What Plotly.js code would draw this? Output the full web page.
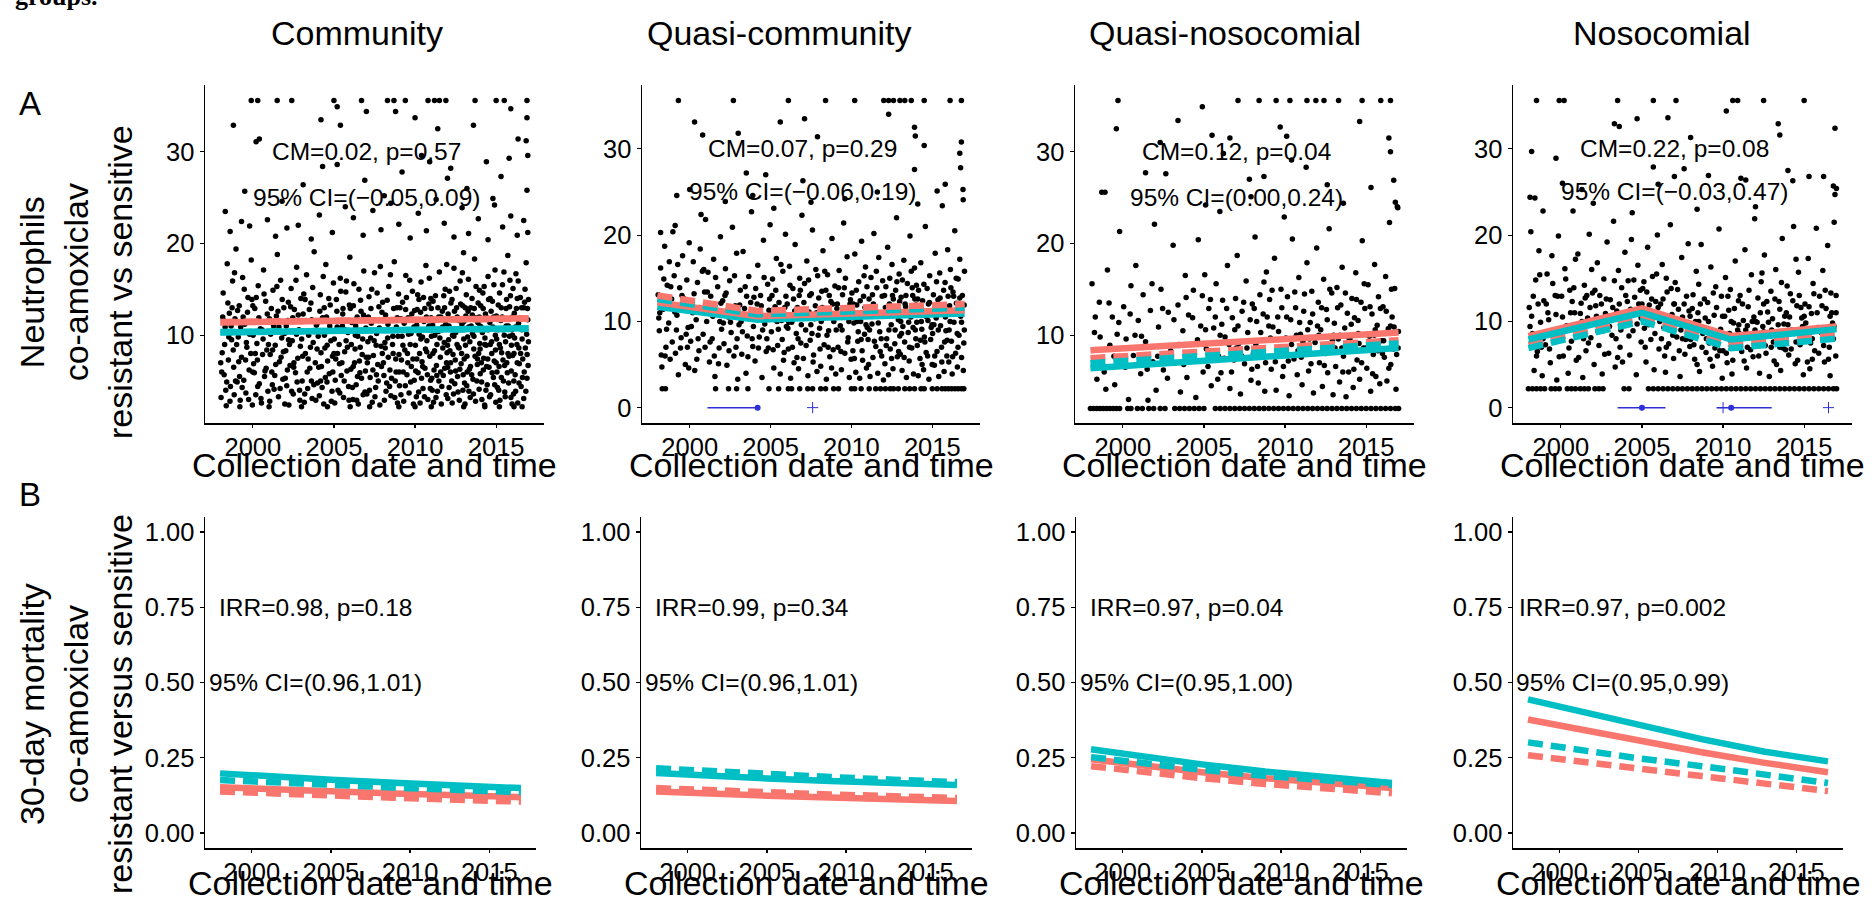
<!DOCTYPE html>
<html><head><meta charset="utf-8">
<script src="https://cdn.plot.ly/plotly-3.0.1.min.js"></script>
<style>html,body{margin:0;padding:0;background:#fff}#chart{width:1872px;height:904px}</style>
</head><body><div id="chart"></div>
<script>
// ---------- DATA ----------
const groups = ["Community", "Quasi-community", "Quasi-nosocomial", "Nosocomial"];
const xTickVals = [2000, 2005, 2010, 2015];
const yTickA13 = [10, 20, 30];
const yTickA24 = [0, 10, 20, 30];
const yTickB = [0, 0.25, 0.5, 0.75, 1];
const yTickBText = ["0.00", "0.25", "0.50", "0.75", "1.00"];
const statA1 = ["CM=0.02, p=0.57", "CM=0.07, p=0.29", "CM=0.12, p=0.04", "CM=0.22, p=0.08"];
const statA2 = ["95% CI=(\u22120.05,0.09)", "95% CI=(\u22120.06,0.19)", "95% CI=(0.00,0.24)", "95% CI=(\u22120.03,0.47)"];
const statB1 = ["IRR=0.98, p=0.18", "IRR=0.99, p=0.34", "IRR=0.97, p=0.04", "IRR=0.97, p=0.002"];
const statB2 = ["95% CI=(0.96,1.01)", "95% CI=(0.96,1.01)", "95% CI=(0.95,1.00)", "95% CI=(0.95,0.99)"];

// Panel A scatter points [year, neutrophils]
const a1Pts = [
[1999.9,35.6],[2000.3,35.6],[2001.5,35.6],[2002.4,35.6],[2005.0,35.6],[2006.7,35.6],[2008.3,35.6],[2008.7,35.6],[2009.4,35.6],[2010.8,35.6],[2011.2,35.6],[2011.5,35.6],[2011.9,35.6],[2013.7,35.6],[2015.0,35.6],[2015.5,35.6],[2016.9,35.6],
[1998.8,32.9],[1998.3,23.5],[2004.2,33.5],[2005.4,32.9],[2005.2,34.9],[2007.0,34.4],[2008.8,34.4],[2010.0,33.7],[2011.4,32.5],[2013.6,32.9],[2015.9,34.7],[2016.9,33.7],[2016.35,31.4],[2016.85,31.2],[2016.95,29.6],[2015.8,29.3],[2014.4,28.9],[2000.2,31.1],[2000.4,31.4],[2010.4,29.6],[2010.9,28.9],[2004.3,28.4],[2005.2,28.6],[2012.0,27.1],[2009.2,27.8],[2015.3,27.3],[1999.5,25.7],[2016.9,25.8],[2012.2,28.2],[2003.1,26.4],[2006.9,26.9],[2008.1,25.2],[2013.2,26.0],[2014.8,24.9],[2001.8,24.6],
[1998.6,21.3],[1999.3,22.4],[1999.8,21.9],[2000.9,22.6],[2001.4,20.8],[2002.1,21.7],[2002.8,22.0],[2003.6,20.5],[2004.1,23.1],[2004.9,21.2],[2005.7,24.0],[2006.2,22.8],[2006.8,20.9],[2007.4,23.6],[2007.9,21.5],[2008.5,24.4],[2009.0,22.1],[2009.7,20.6],[2010.2,23.3],[2010.7,21.4],[2011.3,24.8],[2011.8,22.2],[2012.4,20.7],[2012.9,23.9],[2013.3,21.1],[2013.9,22.7],[2014.5,20.4],[2014.9,24.2],[2015.4,21.8],[2015.9,23.0],[2016.3,20.9],[2016.7,22.5],[2016.95,21.2],
[1998.04,3.2],[1998.11,8.1],[1998.17,14.6],[1998.23,5.7],[1998.29,10.9],[1998.36,2.3],[1998.42,17.8],[1998.49,7.3],[1998.55,12.4],[1998.62,4.4],[1998.69,9.5],[1998.75,15.9],[1998.82,6.5],[1998.9,11.8],[1998.96,19.4],
[1999.03,4.9],[1999.1,9.8],[1999.16,13.2],[1999.22,2.9],[1999.3,7.6],[1999.37,16.3],[1999.44,5.1],[1999.5,11.2],[1999.57,3.7],[1999.63,8.7],[1999.7,14.1],[1999.77,6.2],[1999.84,10.4],[1999.9,18.2],[1999.97,2.4],
[2000.05,6.9],[2000.12,12.9],[2000.18,3.5],[2000.25,9.1],[2000.33,15.4],[2000.4,4.7],[2000.46,10.7],[2000.53,2.6],[2000.6,7.9],[2000.66,17.1],[2000.72,5.5],[2000.79,13.7],[2000.86,8.4],[2000.93,3.9],[2000.98,11.5],
[2001.04,2.8],[2001.1,10.1],[2001.17,6.0],[2001.24,14.9],[2001.31,4.1],[2001.38,8.9],[2001.45,12.1],[2001.51,18.8],[2001.58,3.3],[2001.64,7.1],[2001.71,16.0],[2001.78,9.7],[2001.85,5.2],[2001.91,13.0],[2001.97,2.5],
[2002.03,8.3],[2002.09,4.5],[2002.16,11.6],[2002.22,2.4],[2002.29,6.7],[2002.36,15.1],[2002.43,9.4],[2002.49,3.6],[2002.56,12.8],[2002.63,5.9],[2002.7,17.4],[2002.77,7.5],[2002.84,10.6],[2002.9,2.9],[2002.96,14.0],
[2003.04,5.0],[2003.1,12.3],[2003.17,2.7],[2003.24,8.0],[2003.31,16.6],[2003.38,4.2],[2003.44,10.0],[2003.51,6.4],[2003.58,13.5],[2003.65,3.1],[2003.72,9.2],[2003.78,19.1],[2003.85,7.0],[2003.92,11.1],[2003.98,4.8],
[2004.03,9.9],[2004.1,3.4],[2004.16,14.4],[2004.23,6.6],[2004.3,11.9],[2004.37,2.5],[2004.44,8.6],[2004.5,17.7],[2004.57,4.9],[2004.64,10.5],[2004.71,5.8],[2004.77,13.3],[2004.84,2.8],[2004.91,7.7],[2004.97,15.7],
[2005.05,2.6],[2005.11,7.4],[2005.18,12.6],[2005.25,4.0],[2005.32,9.0],[2005.39,16.2],[2005.45,5.6],[2005.52,11.0],[2005.59,3.2],[2005.66,8.2],[2005.73,14.7],[2005.8,6.1],[2005.86,10.3],[2005.93,2.9],[2005.98,18.5],
[2006.04,6.3],[2006.1,11.4],[2006.17,3.0],[2006.23,15.6],[2006.3,8.5],[2006.37,4.6],[2006.43,12.0],[2006.5,2.5],[2006.57,7.2],[2006.64,13.8],[2006.7,5.3],[2006.77,9.6],[2006.84,17.0],[2006.91,3.8],[2006.97,10.8],
[2007.03,3.6],[2007.09,9.3],[2007.16,14.2],[2007.23,5.4],[2007.3,11.3],[2007.36,2.7],[2007.43,7.8],[2007.5,16.8],[2007.57,4.3],[2007.63,10.2],[2007.7,6.8],[2007.77,13.1],[2007.83,2.4],[2007.9,8.8],[2007.96,12.5],
[2008.05,7.0],[2008.11,2.9],[2008.18,12.2],[2008.25,4.8],[2008.31,9.7],[2008.38,15.3],[2008.45,6.2],[2008.51,3.4],[2008.58,11.7],[2008.65,8.0],[2008.72,18.0],[2008.78,5.0],[2008.85,10.9],[2008.92,2.6],[2008.98,14.5],
[2009.04,4.5],[2009.1,10.6],[2009.16,7.3],[2009.23,13.6],[2009.3,2.8],[2009.37,8.4],[2009.43,16.5],[2009.5,5.7],[2009.57,11.9],[2009.63,3.7],[2009.7,9.0],[2009.77,6.6],[2009.84,14.8],[2009.9,2.5],[2009.97,12.7],
[2010.02,8.9],[2010.08,3.3],[2010.13,12.8],[2010.19,5.9],[2010.25,10.1],[2010.31,2.6],[2010.37,15.8],[2010.43,7.1],[2010.49,4.2],[2010.55,11.5],[2010.61,6.4],[2010.67,17.6],[2010.73,9.4],[2010.79,3.0],[2010.85,13.4],[2010.91,7.7],[2010.96,5.1],
[2011.03,5.3],[2011.08,11.1],[2011.14,2.7],[2011.2,8.3],[2011.26,14.3],[2011.32,6.7],[2011.38,3.9],[2011.44,10.4],[2011.5,16.9],[2011.56,7.6],[2011.62,2.5],[2011.68,12.6],[2011.74,5.6],[2011.8,9.2],[2011.86,15.0],[2011.92,3.5],[2011.97,8.1],
[2012.02,3.1],[2012.07,9.5],[2012.12,14.8],[2012.18,6.0],[2012.23,11.8],[2012.29,2.6],[2012.34,7.9],[2012.4,17.3],[2012.45,4.7],[2012.51,10.3],[2012.56,13.0],[2012.62,5.5],[2012.67,8.7],[2012.73,2.9],[2012.78,15.9],[2012.84,6.9],[2012.89,11.2],[2012.95,4.0],[2012.99,19.0],
[2013.03,7.4],[2013.08,2.5],[2013.13,12.1],[2013.19,4.5],[2013.24,9.8],[2013.29,16.1],[2013.35,6.3],[2013.4,3.2],[2013.46,11.0],[2013.51,14.0],[2013.57,5.2],[2013.62,8.5],[2013.67,18.3],[2013.73,2.8],[2013.78,10.7],[2013.84,6.8],[2013.89,13.5],[2013.95,4.1],[2013.99,9.1],
[2014.02,5.8],[2014.07,10.9],[2014.12,3.0],[2014.18,14.6],[2014.23,7.5],[2014.29,2.4],[2014.34,12.3],[2014.39,8.9],[2014.45,4.6],[2014.5,16.4],[2014.56,6.5],[2014.61,11.4],[2014.66,3.5],[2014.72,9.3],[2014.77,13.7],[2014.83,5.4],[2014.88,7.2],[2014.93,17.1],[2014.98,2.7],
[2015.03,9.6],[2015.08,4.3],[2015.13,13.3],[2015.18,6.6],[2015.23,2.9],[2015.29,11.6],[2015.34,8.1],[2015.39,15.5],[2015.45,5.0],[2015.5,10.0],[2015.56,3.3],[2015.61,12.9],[2015.66,7.0],[2015.72,18.7],[2015.77,4.8],[2015.82,9.9],[2015.88,14.3],[2015.93,6.1],[2015.98,2.5],
[2016.02,7.8],[2016.07,3.6],[2016.12,12.4],[2016.17,5.7],[2016.22,16.7],[2016.28,9.0],[2016.33,2.6],[2016.38,11.3],[2016.43,6.9],[2016.49,14.1],[2016.54,4.4],[2016.59,10.6],[2016.64,7.4],[2016.7,3.1],[2016.75,13.6],[2016.8,8.6],[2016.85,17.9],[2016.9,5.3],[2016.95,11.7],[2016.99,9.3]
];
const a1Extra = [
[1998.08,6.0],[1998.14,12.0],[1998.26,9.0],[1998.33,4.0],[1998.46,13.5],[1998.59,2.8],[1998.66,11.0],[1998.79,8.4],[1998.87,16.8],[1998.93,5.0],
[1999.06,12.7],[1999.13,7.1],[1999.25,10.9],[1999.34,4.3],[1999.47,15.0],[1999.6,9.2],[1999.67,12.5],[1999.74,3.0],[1999.87,8.0],[1999.94,13.9],
[2000.02,10.0],[2000.09,5.9],[2000.21,14.1],[2000.28,7.3],[2000.37,11.9],[2000.5,3.1],[2000.63,9.6],[2000.69,14.5],[2000.82,6.4],[2000.89,12.3],
[2001.07,7.9],[2001.14,12.9],[2001.2,4.6],[2001.28,11.0],[2001.41,6.8],[2001.48,15.3],[2001.61,10.9],[2001.68,4.2],[2001.81,13.9],[2001.88,8.2],
[2002.06,11.0],[2002.13,6.2],[2002.19,13.6],[2002.26,9.0],[2002.39,3.9],[2002.46,11.9],[2002.53,7.0],[2002.66,16.0],[2002.73,4.9],[2002.8,12.2],[2002.93,8.8],
[2003.07,7.7],[2003.14,14.5],[2003.2,3.6],[2003.28,11.6],[2003.35,6.0],[2003.48,12.8],[2003.55,8.7],[2003.61,5.0],[2003.69,15.2],[2003.82,10.4],[2003.88,2.9],
[2004.06,6.5],[2004.13,12.6],[2004.2,8.1],[2004.27,4.3],[2004.34,16.4],[2004.41,10.0],[2004.47,5.4],[2004.54,12.0],[2004.61,7.2],[2004.68,14.0],[2004.81,9.4],[2004.88,3.9],
[2005.02,9.6],[2005.08,5.1],[2005.15,13.9],[2005.22,8.0],[2005.29,11.6],[2005.36,3.7],[2005.42,14.8],[2005.49,7.0],[2005.56,12.9],[2005.63,5.0],[2005.7,10.6],[2005.77,15.9],[2005.83,8.7],[2005.9,4.4],
[2006.07,9.0],[2006.14,4.3],[2006.2,13.2],[2006.27,7.0],[2006.34,11.0],[2006.4,2.9],[2006.47,9.9],[2006.54,15.0],[2006.6,5.9],[2006.67,12.6],[2006.74,7.9],[2006.8,3.5],[2006.88,11.9],[2006.94,6.1],
[2007.06,7.0],[2007.12,12.0],[2007.19,4.0],[2007.26,9.7],[2007.33,15.0],[2007.4,6.2],[2007.46,11.7],[2007.53,3.3],[2007.6,8.9],[2007.66,14.6],[2007.73,5.0],[2007.8,10.8],[2007.86,17.5],[2007.93,6.6],
[2008.02,11.6],[2008.08,5.6],[2008.14,9.2],[2008.21,3.9],[2008.28,13.8],[2008.35,7.6],[2008.41,10.6],[2008.48,16.6],[2008.55,5.3],[2008.61,9.0],[2008.68,12.9],[2008.75,3.2],[2008.81,7.4],[2008.88,13.0],[2008.95,9.9],
[2009.01,7.9],[2009.07,13.0],[2009.13,3.5],[2009.2,9.9],[2009.27,6.0],[2009.33,11.3],[2009.4,4.5],[2009.47,14.1],[2009.53,8.0],[2009.6,10.1],[2009.67,16.0],[2009.73,4.9],[2009.8,12.3],[2009.87,7.4],[2009.93,10.9],
[2010.04,6.1],[2010.1,11.1],[2010.16,14.4],[2010.22,3.8],[2010.28,8.0],[2010.34,12.5],[2010.4,5.3],[2010.46,9.8],[2010.52,14.1],[2010.58,3.3],[2010.64,8.5],[2010.7,12.0],[2010.76,5.7],[2010.82,10.8],[2010.88,16.2],[2010.94,4.2],[2010.99,11.9],
[2011.01,9.9],[2011.06,4.0],[2011.11,13.7],[2011.17,6.2],[2011.23,11.6],[2011.29,3.2],[2011.35,9.0],[2011.41,13.0],[2011.47,5.0],[2011.53,9.7],[2011.59,12.0],[2011.65,4.4],[2011.71,8.6],[2011.77,14.3],[2011.83,6.4],[2011.89,11.2],[2011.95,17.7],
[2012.01,6.5],[2012.04,12.3],[2012.1,4.3],[2012.15,8.3],[2012.21,13.5],[2012.26,5.0],[2012.31,10.0],[2012.37,3.6],[2012.43,12.6],[2012.48,7.3],[2012.53,15.1],[2012.59,9.0],[2012.65,3.8],[2012.7,11.6],[2012.76,6.3],[2012.81,13.4],[2012.87,8.0],[2012.92,16.8],[2012.97,5.7],
[2013.01,11.5],[2013.05,4.8],[2013.11,8.9],[2013.16,14.4],[2013.21,6.0],[2013.27,12.6],[2013.32,3.9],[2013.38,9.3],[2013.43,13.0],[2013.49,5.7],[2013.54,10.2],[2013.6,3.6],[2013.65,12.9],[2013.7,7.7],[2013.76,15.3],[2013.81,5.0],[2013.87,11.4],[2013.92,8.0],[2013.97,14.9],
[2014.01,8.5],[2014.05,13.2],[2014.1,4.9],[2014.15,10.3],[2014.21,6.2],[2014.26,15.3],[2014.31,9.7],[2014.37,4.0],[2014.42,11.9],[2014.48,7.4],[2014.53,13.9],[2014.59,3.3],[2014.64,9.0],[2014.69,12.6],[2014.75,5.9],[2014.8,10.9],[2014.86,15.5],[2014.91,4.6],[2014.96,8.4],
[2015.01,12.1],[2015.05,6.0],[2015.11,10.6],[2015.16,4.0],[2015.21,14.6],[2015.26,8.6],[2015.32,5.4],[2015.37,12.0],[2015.42,7.3],[2015.48,16.9],[2015.53,3.8],[2015.58,9.3],[2015.64,13.9],[2015.69,5.9],[2015.75,11.0],[2015.8,7.7],[2015.85,16.0],[2015.91,3.2],[2015.96,10.6],
[2016.01,10.0],[2016.04,15.1],[2016.09,5.0],[2016.14,9.7],[2016.2,3.9],[2016.25,12.9],[2016.3,7.0],[2016.36,15.9],[2016.41,4.8],[2016.46,10.8],[2016.51,8.0],[2016.57,13.0],[2016.62,5.4],[2016.67,11.8],[2016.73,6.0],[2016.78,15.0],[2016.83,3.9],[2016.88,10.1],[2016.93,12.9],[2016.97,6.7],
[1999.2,2.2],[2001.0,2.2],[2003.0,2.2],[2004.6,2.2],[2006.0,2.2],[2007.2,2.2],[2009.0,2.2],[2010.0,2.2],[2011.0,2.2],[2013.0,2.2],[2014.3,2.2],[2015.2,2.2],[2016.1,2.2],[2016.6,2.2]
];
const a1More = [
[1998.02,7.0],[1998.2,11.6],[1998.39,4.9],[1998.52,9.8],[1998.72,13.0],[1998.85,3.5],
[1999.0,9.0],[1999.18,5.5],[1999.4,12.0],[1999.55,7.3],[1999.8,10.1],[1999.99,6.0],
[2000.0,13.2],[2000.15,8.0],[2000.3,4.4],[2000.56,10.6],[2000.75,6.1],[2000.96,9.0],
[2001.02,11.8],[2001.22,8.4],[2001.35,5.6],[2001.55,12.6],[2001.74,7.6],[2001.95,10.2],
[2002.0,5.3],[2002.2,9.5],[2002.33,13.1],[2002.52,6.5],[2002.69,10.1],[2002.88,4.0],
[2003.01,9.6],[2003.22,13.9],[2003.41,7.4],[2003.63,11.7],[2003.76,4.6],[2003.96,8.5],
[2004.0,11.4],[2004.18,5.0],[2004.4,13.0],[2004.58,8.9],[2004.74,11.0],[2004.93,6.0],
[2005.0,8.0],[2005.2,10.9],[2005.34,6.9],[2005.54,12.3],[2005.75,9.4],[2005.95,13.3],
[2006.01,12.9],[2006.19,6.6],[2006.32,10.0],[2006.45,5.5],[2006.62,8.7],[2006.82,12.2],[2006.99,7.6],
[2007.01,10.6],[2007.14,7.6],[2007.28,12.9],[2007.48,9.4],[2007.62,5.7],[2007.76,11.6],[2007.98,8.0],
[2008.0,13.6],[2008.16,8.6],[2008.33,11.2],[2008.43,4.4],[2008.63,9.9],[2008.83,6.0],[2008.9,11.9],
[2009.02,6.0],[2009.12,11.8],[2009.25,8.9],[2009.42,12.8],[2009.55,7.0],[2009.75,10.2],[2009.95,5.1],
[2010.0,10.9],[2010.11,7.4],[2010.24,13.9],[2010.36,9.6],[2010.47,6.6],[2010.6,12.9],[2010.72,8.2],[2010.86,11.0],[2010.97,14.0],
[2011.0,12.9],[2011.1,8.0],[2011.22,10.0],[2011.34,5.6],[2011.46,12.0],[2011.58,6.0],[2011.7,10.9],[2011.82,13.0],[2011.94,7.0],
[2012.0,8.9],[2012.09,11.0],[2012.19,7.0],[2012.28,13.9],[2012.39,9.9],[2012.5,6.1],[2012.6,12.0],[2012.72,8.6],[2012.83,10.6],[2012.94,13.2],
[2013.0,9.6],[2013.1,13.0],[2013.2,7.7],[2013.31,10.9],[2013.42,6.6],[2013.53,12.2],[2013.63,9.9],[2013.74,11.9],[2013.85,7.4],[2013.96,12.0],
[2014.0,11.0],[2014.09,7.0],[2014.2,12.9],[2014.3,9.0],[2014.41,6.6],[2014.52,10.6],[2014.63,14.0],[2014.73,8.0],[2014.84,12.0],[2014.95,10.0],
[2015.0,7.0],[2015.1,11.9],[2015.2,9.0],[2015.31,13.0],[2015.41,10.6],[2015.52,6.7],[2015.62,11.0],[2015.73,8.0],[2015.83,13.1],[2015.94,8.9],
[2016.0,12.0],[2016.1,8.0],[2016.19,10.9],[2016.3,14.0],[2016.4,8.6],[2016.5,11.9],[2016.6,9.6],[2016.71,13.0],[2016.81,10.6],[2016.91,7.9],[2016.99,13.9]
];

const a2Pts = [
[1999.3,35.6],[2002.7,35.6],[2006.1,35.6],[2008.4,35.6],[2010.2,35.6],[2012.0,35.6],[2012.3,35.6],[2012.6,35.6],[2013.0,35.6],[2013.3,35.6],[2013.7,35.6],[2014.5,35.6],[2016.1,35.6],[2016.8,35.6],
[2000.3,33.1],[2000.8,31.6],[2003.0,31.8],[2005.6,33.1],[2007.1,33.5],[2007.9,31.4],[2012.3,34.0],[2013.9,32.5],[2013.95,31.5],[2014.5,30.4],[2016.8,30.8],[2016.7,29.5],[2016.75,27.8],[2003.5,27.2],[2004.7,27.0],[2013.9,27.6],[2007.0,26.3],[2015.8,25.9],[2000.0,25.3],[1999.2,24.6],[2003.9,24.6],[2016.9,25.3],[2015.3,25.1],[2007.5,23.8],[2000.7,22.4],[1999.1,21.1],[1998.2,20.3],[2011.6,25.0],[2009.6,24.2],[2005.2,23.1],[2014.1,23.6],[2002.2,23.9],
[1998.3,2.2],[1998.5,2.2],[2001.6,2.2],[2002.4,2.2],[2002.9,2.2],[2003.6,2.2],[2004.9,2.2],[2005.5,2.2],[2006.1,2.2],[2006.3,2.2],[2006.8,2.2],[2007.3,2.2],[2007.6,2.2],[2008.1,2.2],[2008.4,2.2],[2008.9,2.2],[2009.2,2.2],[2010.0,2.2],[2010.2,2.2],[2010.6,2.2],[2011.1,2.2],[2011.5,2.2],[2011.8,2.2],[2012.1,2.2],[2012.4,2.2],[2012.6,2.2],[2012.9,2.2],[2013.3,2.2],[2013.6,2.2],[2013.9,2.2],[2014.3,2.2],[2014.5,2.2],[2015.0,2.2],[2015.3,2.2],[2015.6,2.2],[2015.8,2.2],[2016.0,2.2],[2016.2,2.2],[2016.4,2.2],[2016.6,2.2],[2016.8,2.2],[2016.95,2.2],
[1998.05,13.1],[1998.12,8.9],[1998.2,16.2],[1998.28,4.7],[1998.36,11.4],[1998.45,18.7],[1998.53,7.0],[1998.61,14.2],[1998.7,9.8],[1998.79,5.6],[1998.88,12.6],[1998.96,20.4],
[1999.04,15.3],[1999.12,6.3],[1999.21,10.7],[1999.3,3.8],[1999.38,13.9],[1999.47,8.1],[1999.56,17.6],[1999.64,11.9],[1999.73,5.0],[1999.82,14.8],[1999.9,9.3],[1999.97,19.1],
[2000.06,7.7],[2000.14,12.1],[2000.22,16.9],[2000.31,4.3],[2000.4,10.2],[2000.48,14.5],[2000.57,6.6],[2000.65,18.4],[2000.74,11.2],[2000.83,8.5],[2000.92,13.4],[2000.98,21.8],
[2001.05,10.0],[2001.13,15.7],[2001.22,5.3],[2001.3,12.9],[2001.39,8.0],[2001.48,17.2],[2001.56,3.6],[2001.65,11.0],[2001.73,14.0],[2001.82,6.9],[2001.9,19.8],[2001.97,9.1],
[2002.04,12.4],[2002.12,7.4],[2002.21,16.1],[2002.3,4.9],[2002.38,10.5],[2002.47,14.7],[2002.56,8.7],[2002.64,20.9],[2002.73,6.0],[2002.82,11.8],[2002.9,17.9],[2002.97,3.3],
[2003.05,9.6],[2003.13,13.6],[2003.22,6.2],[2003.3,18.1],[2003.39,11.5],[2003.48,4.0],[2003.56,8.3],[2003.65,15.2],[2003.73,10.9],[2003.82,22.7],[2003.9,7.1],[2003.97,12.8],
[2004.04,5.4],[2004.12,10.8],[2004.21,16.5],[2004.3,8.2],[2004.38,13.0],[2004.47,3.5],[2004.56,19.4],[2004.64,9.7],[2004.73,6.5],[2004.82,14.3],[2004.9,11.3],[2004.97,21.2],
[2005.05,8.8],[2005.12,14.9],[2005.2,4.6],[2005.28,11.7],[2005.36,17.3],[2005.44,7.2],[2005.52,12.2],[2005.6,3.9],[2005.68,10.1],[2005.76,15.8],[2005.84,6.4],[2005.92,20.1],[2005.98,9.4],
[2006.03,12.0],[2006.1,6.8],[2006.17,16.4],[2006.24,3.4],[2006.31,9.9],[2006.38,13.8],[2006.45,5.2],[2006.52,18.9],[2006.59,8.6],[2006.66,11.6],[2006.73,4.5],[2006.8,15.0],[2006.87,7.5],[2006.94,22.3],[2006.98,10.4],
[2007.03,5.7],[2007.1,14.4],[2007.17,9.0],[2007.24,17.0],[2007.31,3.7],[2007.38,11.1],[2007.45,7.8],[2007.52,13.2],[2007.59,20.6],[2007.66,6.1],[2007.73,10.3],[2007.8,16.0],[2007.87,4.2],[2007.94,8.4],[2007.98,12.7],
[2008.03,9.2],[2008.1,4.8],[2008.17,13.5],[2008.24,18.2],[2008.31,7.3],[2008.38,11.0],[2008.45,3.3],[2008.52,15.4],[2008.59,8.9],[2008.66,5.9],[2008.73,12.3],[2008.8,19.6],[2008.87,6.7],[2008.94,10.6],[2008.98,14.1],
[2009.03,3.9],[2009.1,11.5],[2009.17,7.0],[2009.24,15.9],[2009.31,9.5],[2009.38,4.4],[2009.45,13.1],[2009.52,21.4],[2009.59,6.3],[2009.66,10.8],[2009.73,17.5],[2009.8,8.1],[2009.87,3.5],[2009.94,12.5],[2009.98,5.6],
[2010.03,13.3],[2010.09,6.6],[2010.15,9.8],[2010.21,17.8],[2010.27,4.1],[2010.33,11.9],[2010.39,7.7],[2010.45,14.6],[2010.51,3.4],[2010.57,10.0],[2010.63,19.3],[2010.69,5.5],[2010.75,12.9],[2010.81,8.5],[2010.87,16.3],[2010.93,4.6],[2010.98,9.3],
[2011.03,7.9],[2011.09,12.6],[2011.15,3.6],[2011.21,15.1],[2011.27,9.7],[2011.33,5.8],[2011.39,20.2],[2011.45,11.4],[2011.51,7.1],[2011.57,13.9],[2011.63,4.0],[2011.69,17.4],[2011.75,8.8],[2011.81,10.9],[2011.87,6.0],[2011.93,14.7],[2011.98,3.2],
[2012.02,10.7],[2012.07,5.1],[2012.13,14.0],[2012.18,8.0],[2012.24,18.6],[2012.29,3.8],[2012.35,12.0],[2012.4,6.8],[2012.46,9.6],[2012.51,16.6],[2012.57,4.5],[2012.62,11.3],[2012.68,7.4],[2012.73,13.6],[2012.79,22.0],[2012.84,5.9],[2012.9,10.2],[2012.95,15.5],[2012.99,8.3],
[2013.02,6.2],[2013.07,12.8],[2013.13,4.3],[2013.18,9.4],[2013.24,17.1],[2013.29,7.6],[2013.35,11.7],[2013.4,3.5],[2013.46,14.4],[2013.51,8.7],[2013.57,5.4],[2013.62,19.9],[2013.68,10.5],[2013.73,6.9],[2013.79,13.0],[2013.84,3.9],[2013.9,16.2],[2013.95,9.0],[2013.99,11.9],
[2014.02,14.2],[2014.07,7.2],[2014.13,3.7],[2014.18,11.2],[2014.24,5.7],[2014.29,16.8],[2014.35,9.1],[2014.4,12.4],[2014.46,4.4],[2014.51,8.2],[2014.57,21.0],[2014.62,6.4],[2014.68,13.8],[2014.73,10.1],[2014.79,3.3],[2014.84,15.3],[2014.9,7.9],[2014.95,11.0],[2014.99,5.0],
[2015.02,8.6],[2015.07,13.1],[2015.13,4.9],[2015.18,17.9],[2015.24,10.4],[2015.29,6.5],[2015.35,12.5],[2015.4,3.6],[2015.46,15.6],[2015.51,9.5],[2015.57,7.0],[2015.62,23.4],[2015.68,11.5],[2015.73,4.2],[2015.79,14.5],[2015.84,8.9],[2015.9,6.0],[2015.95,18.3],[2015.99,10.9],
[2016.02,5.3],[2016.07,11.8],[2016.12,16.0],[2016.18,7.7],[2016.23,3.9],[2016.28,13.4],[2016.34,9.9],[2016.39,20.5],[2016.44,6.3],[2016.49,12.1],[2016.55,4.7],[2016.6,14.9],[2016.65,8.4],[2016.7,17.2],[2016.76,10.6],[2016.81,5.8],[2016.86,13.0],[2016.91,24.1],[2016.95,7.5],[2016.99,15.8]
];
const a2Extra = [
[1998.09,10.4],[1998.24,6.1],[1998.4,14.9],[1998.57,9.1],[1998.74,16.9],[1998.92,7.6],
[1999.08,11.1],[1999.26,16.6],[1999.43,6.9],[1999.6,12.7],[1999.78,8.5],[1999.94,4.6],
[2000.1,9.4],[2000.27,13.2],[2000.44,5.6],[2000.61,11.6],[2000.78,15.8],[2000.95,7.0],
[2001.09,13.4],[2001.26,7.6],[2001.43,10.6],[2001.6,15.1],[2001.78,5.1],[2001.93,12.1],
[2002.08,9.8],[2002.25,13.3],[2002.43,6.6],[2002.6,11.1],[2002.77,15.3],[2002.93,8.0],
[2003.09,11.9],[2003.26,8.8],[2003.43,14.0],[2003.6,5.9],[2003.77,12.2],[2003.94,9.4],
[2004.08,13.8],[2004.25,6.9],[2004.43,11.8],[2004.6,15.1],[2004.77,8.0],[2004.94,12.6],
[2005.03,11.0],[2005.16,6.7],[2005.32,13.6],[2005.48,9.1],[2005.64,16.6],[2005.8,5.5],[2005.95,12.9],
[2006.07,9.2],[2006.2,14.2],[2006.35,7.0],[2006.49,11.2],[2006.63,5.8],[2006.77,13.0],[2006.9,9.6],
[2007.06,12.2],[2007.2,7.2],[2007.35,14.8],[2007.49,9.6],[2007.63,5.3],[2007.77,11.8],[2007.91,15.3],
[2008.06,6.8],[2008.2,11.6],[2008.35,15.8],[2008.49,8.4],[2008.63,13.0],[2008.77,4.6],[2008.91,10.0],
[2009.06,9.0],[2009.2,13.9],[2009.35,6.5],[2009.49,11.0],[2009.63,15.0],[2009.77,7.6],[2009.91,12.0],
[2010.06,10.6],[2010.18,5.7],[2010.3,13.6],[2010.42,8.8],[2010.54,12.4],[2010.66,6.6],[2010.78,15.3],[2010.9,9.6],
[2011.06,5.0],[2011.18,10.8],[2011.3,13.1],[2011.42,7.7],[2011.54,15.8],[2011.66,9.8],[2011.78,6.5],[2011.9,12.9],
[2012.05,13.0],[2012.15,7.2],[2012.26,10.6],[2012.37,15.0],[2012.48,5.7],[2012.59,12.6],[2012.7,9.0],[2012.81,14.6],[2012.92,6.5],
[2013.05,10.0],[2013.15,14.8],[2013.26,5.8],[2013.37,13.0],[2013.48,10.9],[2013.59,7.0],[2013.7,15.8],[2013.81,9.3],[2013.92,12.6],
[2014.04,9.9],[2014.15,13.6],[2014.26,7.8],[2014.37,5.0],[2014.48,14.3],[2014.6,10.6],[2014.71,6.0],[2014.82,12.2],[2014.93,9.3],
[2015.04,11.0],[2015.15,6.0],[2015.26,14.6],[2015.37,9.0],[2015.48,12.7],[2015.59,5.3],[2015.7,13.6],[2015.81,10.5],[2015.92,7.8],
[2016.04,9.0],[2016.15,13.9],[2016.26,5.9],[2016.37,11.0],[2016.48,15.0],[2016.59,7.0],[2016.7,12.7],[2016.81,9.9],[2016.92,4.3],[2016.97,11.9]
];
const a2More = [
[1998.15,11.0],[1998.48,6.0],[1998.83,14.0],[1999.18,9.0],[1999.52,13.0],[1999.86,7.0],[2000.18,11.0],[2000.52,8.0],[2000.87,16.0],
[2001.18,11.9],[2001.52,6.0],[2001.86,10.0],[2002.18,13.0],[2002.52,9.9],[2002.86,7.0],[2003.18,10.0],[2003.52,12.9],[2003.86,8.0],
[2004.17,12.0],[2004.51,9.0],[2004.86,6.9],[2005.09,13.0],[2005.4,10.0],[2005.72,7.9],[2005.88,11.6],
[2006.13,9.9],[2006.42,12.6],[2006.7,8.0],[2006.84,13.6],[2007.13,10.6],[2007.42,13.0],[2007.56,8.6],[2007.84,11.0],
[2008.13,10.0],[2008.42,13.6],[2008.56,7.0],[2008.84,12.0],[2009.13,12.0],[2009.42,9.0],[2009.56,13.9],[2009.84,10.0],
[2010.12,12.0],[2010.36,10.0],[2010.6,7.9],[2010.84,11.6],[2010.96,14.0],[2011.12,9.0],[2011.36,12.0],[2011.6,10.6],[2011.84,8.0],[2011.96,11.0],
[2012.1,11.6],[2012.32,9.0],[2012.54,13.0],[2012.76,10.9],[2012.98,12.3],[2013.1,8.6],[2013.32,12.0],[2013.54,9.9],[2013.76,13.9],[2013.98,8.0],
[2014.1,12.6],[2014.32,10.0],[2014.54,7.6],[2014.76,12.0],[2014.98,9.6],[2015.1,9.6],[2015.32,12.0],[2015.54,10.9],[2015.76,7.6],[2015.98,12.9],
[2016.1,10.0],[2016.32,12.9],[2016.54,8.6],[2016.76,12.0],[2016.98,9.0]
];

const a3Pts = [
[1999.7,35.6],[2007.1,35.6],[2008.4,35.6],[2009.45,35.6],[2010.3,35.6],[2011.35,35.6],[2011.9,35.6],[2012.4,35.6],[2013.3,35.6],[2014.75,35.6],[2015.9,35.6],[2016.5,35.6],
[1999.6,32.5],[2002.3,31.0],[2003.4,33.4],[2004.9,34.9],[2005.5,31.8],[2006.2,29.8],[2006.6,31.5],[2008.7,27.3],[2009.7,32.7],[2010.1,31.7],[2010.4,29.1],[2011.3,28.3],[2012.6,26.4],[2014.6,33.3],[2015.3,26.1],[2016.4,31.5],[2016.5,30.0],[2016.7,26.9],[2016.8,24.5],[2016.95,23.9],[2001.4,27.7],[2007.9,25.1],[2005.1,24.2],[2013.6,24.4],[1998.7,25.6],[1998.9,25.6],
[1998.0,2.0],[1998.2,2.0],[1998.4,2.0],[1998.6,2.0],[1998.8,2.0],[1999.0,2.0],[1999.2,2.0],[1999.4,2.0],[1999.6,2.0],[1999.8,2.0],[2000.3,2.0],[2000.5,2.0],[2000.9,2.0],[2001.2,2.0],[2001.6,2.0],[2001.9,2.0],[2002.3,2.0],[2002.6,2.0],[2003.2,2.0],[2003.5,2.0],[2003.8,2.0],[2004.1,2.0],[2004.4,2.0],[2004.7,2.0],[2005.0,2.0],[2005.7,2.0],[2006.0,2.0],[2006.3,2.0],[2006.6,2.0],[2006.9,2.0],[2007.2,2.0],[2007.5,2.0],[2007.8,2.0],[2008.1,2.0],[2008.4,2.0],[2008.7,2.0],[2009.0,2.0],[2009.3,2.0],[2009.6,2.0],[2009.9,2.0],[2010.2,2.0],[2010.5,2.0],[2010.8,2.0],[2011.1,2.0],[2011.4,2.0],[2011.7,2.0],[2012.0,2.0],[2012.3,2.0],[2012.6,2.0],[2012.9,2.0],[2013.2,2.0],[2013.5,2.0],[2013.8,2.0],[2014.1,2.0],[2014.4,2.0],[2014.7,2.0],[2015.0,2.0],[2015.3,2.0],[2015.6,2.0],[2015.9,2.0],[2016.2,2.0],[2016.5,2.0],[2016.8,2.0],[2017.0,2.0],
[1998.1,15.6],[1998.25,10.3],[1998.4,5.2],[1998.55,13.6],[1998.7,7.4],[1998.95,4.1],
[1999.05,17.1],[1999.2,8.9],[1999.35,12.0],[1999.5,4.6],[1999.65,10.1],[1999.8,21.3],[1999.95,6.7],
[2000.05,13.1],[2000.2,9.6],[2000.35,3.0],[2000.5,15.4],[2000.65,7.8],[2000.8,17.6],[2000.95,11.6],
[2001.1,5.8],[2001.25,14.4],[2001.4,9.3],[2001.55,2.9],[2001.7,12.7],[2001.85,7.1],[2001.95,22.1],
[2002.05,4.0],[2002.2,10.9],[2002.35,15.0],[2002.5,6.2],[2002.65,27.6],[2002.8,12.5],[2002.95,8.3],
[2003.1,19.8],[2003.25,7.0],[2003.4,13.3],[2003.55,3.8],[2003.7,10.5],[2003.85,16.5],[2003.95,5.4],
[2004.05,12.2],[2004.2,9.0],[2004.35,14.9],[2004.5,3.2],[2004.65,20.4],[2004.8,11.0],[2004.95,6.0],
[2005.05,16.6],[2005.15,8.5],[2005.3,12.9],[2005.45,4.5],[2005.6,10.8],[2005.75,15.6],[2005.9,7.7],[2005.98,23.5],
[2006.05,5.9],[2006.15,13.8],[2006.3,9.8],[2006.45,17.6],[2006.6,4.2],[2006.75,11.9],[2006.85,7.3],[2006.95,14.0],
[2007.05,18.7],[2007.15,9.1],[2007.25,3.6],[2007.35,12.6],[2007.5,6.9],[2007.6,15.9],[2007.7,10.3],[2007.8,27.0],[2007.9,5.1],[2007.98,13.4],
[2008.05,8.0],[2008.15,20.7],[2008.25,11.5],[2008.35,4.8],[2008.45,14.4],[2008.55,7.8],[2008.65,12.3],[2008.75,3.9],[2008.85,16.9],[2008.95,9.5],
[2009.05,13.9],[2009.15,6.3],[2009.25,10.9],[2009.35,18.4],[2009.45,4.0],[2009.55,12.0],[2009.65,8.6],[2009.75,15.0],[2009.85,5.5],[2009.95,22.9],
[2010.05,9.7],[2010.15,14.2],[2010.25,3.4],[2010.35,11.7],[2010.45,20.5],[2010.55,7.4],[2010.65,13.0],[2010.75,5.7],[2010.85,16.3],[2010.95,10.1],
[2011.05,4.6],[2011.15,12.6],[2011.25,8.4],[2011.35,17.9],[2011.45,6.1],[2011.55,11.4],[2011.65,14.8],[2011.75,3.7],[2011.85,9.2],[2011.95,19.5],
[2012.05,13.6],[2012.12,7.0],[2012.2,10.6],[2012.3,4.4],[2012.38,16.1],[2012.46,9.0],[2012.55,12.8],[2012.63,5.9],[2012.72,21.6],[2012.8,8.2],[2012.88,14.6],[2012.96,3.5],
[2013.04,11.3],[2013.12,6.6],[2013.2,15.2],[2013.28,9.6],[2013.36,4.9],[2013.44,13.3],[2013.52,17.4],[2013.6,7.7],[2013.68,10.8],[2013.76,3.3],[2013.84,12.4],[2013.92,6.0],
[2014.04,8.9],[2014.12,14.0],[2014.2,4.3],[2014.28,11.9],[2014.36,16.8],[2014.44,7.3],[2014.52,10.2],[2014.6,5.2],[2014.68,13.6],[2014.76,20.3],[2014.84,8.6],[2014.92,12.9],
[2015.04,6.4],[2015.12,15.5],[2015.2,9.9],[2015.28,3.9],[2015.36,12.3],[2015.44,7.9],[2015.52,17.7],[2015.6,5.5],[2015.68,11.1],[2015.76,14.2],[2015.84,4.7],[2015.92,9.4],
[2016.04,13.1],[2016.12,7.6],[2016.2,16.4],[2016.28,5.0],[2016.36,10.7],[2016.44,22.3],[2016.52,6.8],[2016.6,12.0],[2016.68,8.5],[2016.76,15.1],[2016.84,4.1],[2016.92,24.0],[2016.99,10.4]
];
const a3Extra = [
[1998.3,12.0],[1998.6,9.8],[1998.85,6.0],[1999.15,13.5],[1999.45,7.7],[1999.75,11.4],[2000.15,6.5],[2000.45,12.3],[2000.75,10.0],
[2001.15,9.9],[2001.5,6.3],[2001.8,15.6],[2002.15,7.7],[2002.45,12.9],[2002.75,5.3],[2003.15,11.7],[2003.45,9.0],[2003.75,6.8],[2003.9,14.1],
[2004.1,7.2],[2004.3,11.9],[2004.6,9.5],[2004.9,14.3],[2005.1,10.6],[2005.25,6.6],[2005.4,13.9],[2005.55,8.1],[2005.7,12.0],[2005.85,5.2],
[2006.1,11.2],[2006.25,7.5],[2006.4,12.9],[2006.55,9.0],[2006.7,6.0],[2006.9,10.6],[2007.1,11.0],[2007.3,7.8],[2007.45,13.6],[2007.65,8.6],[2007.85,11.7],[2007.95,6.3],
[2008.1,12.9],[2008.3,6.6],[2008.5,10.3],[2008.7,15.8],[2008.8,7.0],[2008.9,12.0],[2009.1,9.7],[2009.2,14.9],[2009.4,7.1],[2009.6,10.4],[2009.8,13.0],[2009.9,6.6],
[2010.1,12.0],[2010.2,7.2],[2010.4,9.0],[2010.6,14.7],[2010.8,8.3],[2010.9,11.4],[2011.1,9.3],[2011.2,14.5],[2011.4,10.6],[2011.6,6.9],[2011.7,12.3],[2011.9,8.0],
[2012.08,10.0],[2012.25,13.0],[2012.42,6.7],[2012.6,11.7],[2012.76,15.0],[2012.92,9.4],[2013.08,8.6],[2013.24,13.0],[2013.4,10.0],[2013.56,6.0],[2013.72,14.6],[2013.88,9.8],
[2014.08,11.2],[2014.24,6.3],[2014.4,13.9],[2014.56,9.1],[2014.72,7.0],[2014.88,15.6],[2015.08,10.1],[2015.24,13.1],[2015.4,5.8],[2015.56,10.6],[2015.72,8.3],[2015.88,12.9],
[2016.08,9.4],[2016.24,12.6],[2016.4,6.4],[2016.56,15.0],[2016.72,10.9],[2016.88,7.9],
[2008.2,9.0],[2009.0,11.0],[2010.0,8.6],[2010.7,10.0],[2011.0,7.6],[2011.5,9.6],[2012.0,11.0],[2012.5,8.0],[2013.0,10.0],[2013.5,8.6],[2014.0,9.6],[2014.5,11.6],[2015.0,8.6],[2015.5,10.0],[2016.0,8.0],[2016.5,11.0],[2016.97,8.6],[2007.0,8.6],[2006.0,10.0],[2005.0,9.0]
];

const a4Pts = [
[1998.5,35.6],[1999.9,35.6],[2000.2,35.6],[2003.5,35.6],[2005.7,35.6],[2007.1,35.6],[2010.6,35.6],[2010.9,35.6],[2012.5,35.6],[2015.0,35.6],
[1998.2,29.7],[1998.1,24.4],[1998.4,24.3],[1998.9,22.8],[1999.7,28.9],[2000.1,26.0],[2001.3,25.3],[2003.3,32.9],[2003.6,32.6],[2004.7,33.5],[2005.7,27.9],[2006.0,25.9],[2006.6,33.6],[2007.0,26.8],[2007.6,27.7],[2008.0,31.3],[2009.1,26.9],[2010.2,34.4],[2011.1,26.6],[2011.4,26.4],[2012.0,23.3],[2013.5,31.6],[2013.4,32.9],[2014.0,27.5],[2014.3,26.3],[2015.3,26.8],[2016.2,26.8],[2016.9,32.4],[2016.8,25.7],[2002.0,23.7],[2008.4,23.0],
[1998.0,2.2],[1998.25,2.2],[1998.5,2.2],[1998.75,2.2],[1999.0,2.2],[1999.4,2.2],[1999.65,2.2],[1999.9,2.2],[2000.4,2.2],[2000.65,2.2],[2000.9,2.2],[2001.2,2.2],[2001.45,2.2],[2001.7,2.2],[2002.1,2.2],[2002.35,2.2],[2002.6,2.2],[2003.9,2.2],[2004.2,2.2],[2005.4,2.2],[2005.7,2.2],[2006.0,2.2],[2006.3,2.2],[2006.6,2.2],[2006.9,2.2],[2007.2,2.2],[2007.5,2.2],[2007.8,2.2],[2008.1,2.2],[2008.4,2.2],[2008.7,2.2],[2009.0,2.2],[2009.3,2.2],[2009.6,2.2],[2009.9,2.2],[2010.2,2.2],[2010.5,2.2],[2010.8,2.2],[2011.1,2.2],[2011.4,2.2],[2011.7,2.2],[2012.0,2.2],[2012.3,2.2],[2012.6,2.2],[2012.9,2.2],[2013.2,2.2],[2013.5,2.2],[2013.8,2.2],[2014.1,2.2],[2014.4,2.2],[2014.7,2.2],[2015.0,2.2],[2015.3,2.2],[2015.6,2.2],[2015.9,2.2],[2016.2,2.2],[2016.5,2.2],[2016.8,2.2],[2017.0,2.2],
[1998.05,11.6],[1998.15,20.4],[1998.25,8.6],[1998.35,4.3],[1998.45,14.8],[1998.55,6.5],[1998.65,18.2],[1998.75,9.9],[1998.85,3.7],[1998.95,12.4],
[1999.05,7.3],[1999.15,15.5],[1999.25,10.2],[1999.35,5.2],[1999.45,17.6],[1999.55,8.0],[1999.65,13.0],[1999.75,3.2],[1999.85,19.9],[1999.95,9.1],
[2000.05,12.9],[2000.15,6.0],[2000.25,16.1],[2000.35,9.5],[2000.45,4.0],[2000.55,13.6],[2000.65,7.7],[2000.75,22.8],[2000.85,11.0],[2000.95,5.5],
[2001.05,17.8],[2001.15,8.7],[2001.25,12.1],[2001.35,3.5],[2001.45,14.2],[2001.55,6.6],[2001.65,10.4],[2001.75,20.1],[2001.85,8.1],[2001.95,13.3],
[2002.05,5.0],[2002.15,11.8],[2002.25,16.8],[2002.35,7.2],[2002.45,9.8],[2002.55,3.9],[2002.65,14.9],[2002.75,10.9],[2002.85,19.2],[2002.95,6.3],
[2003.05,12.5],[2003.15,8.4],[2003.25,21.6],[2003.35,4.7],[2003.45,11.2],[2003.55,15.9],[2003.65,7.0],[2003.75,13.9],[2003.85,9.6],[2003.95,18.0],[2003.5,5.8],
[2004.05,10.6],[2004.15,14.7],[2004.25,6.1],[2004.35,19.5],[2004.45,8.9],[2004.55,12.8],[2004.65,3.8],[2004.75,16.5],[2004.85,11.5],[2004.95,7.6],[2004.4,22.6],
[2005.05,13.8],[2005.15,9.2],[2005.25,5.3],[2005.35,18.6],[2005.45,11.9],[2005.55,7.9],[2005.65,15.2],[2005.75,4.4],[2005.85,12.3],[2005.95,20.0],[2005.5,10.1],
[2006.05,6.8],[2006.15,12.0],[2006.25,16.6],[2006.35,9.3],[2006.45,4.1],[2006.55,13.4],[2006.65,7.4],[2006.75,21.2],[2006.85,10.8],[2006.95,5.7],[2006.5,15.0],
[2007.05,14.5],[2007.15,8.2],[2007.25,11.4],[2007.35,3.6],[2007.45,17.4],[2007.55,9.7],[2007.65,6.2],[2007.75,12.9],[2007.85,19.0],[2007.95,7.1],[2007.5,10.5],
[2008.05,9.0],[2008.15,13.1],[2008.25,5.6],[2008.35,15.8],[2008.45,11.0],[2008.55,4.2],[2008.65,18.9],[2008.75,8.6],[2008.85,12.6],[2008.95,6.4],[2008.5,14.3],
[2009.05,12.2],[2009.15,7.5],[2009.25,16.3],[2009.35,4.8],[2009.45,10.7],[2009.55,14.0],[2009.65,6.0],[2009.75,20.7],[2009.85,9.1],[2009.95,3.4],[2009.6,11.6],
[2010.05,8.3],[2010.15,15.1],[2010.25,5.2],[2010.35,11.3],[2010.45,13.7],[2010.55,3.9],[2010.65,9.8],[2010.75,17.0],[2010.85,6.9],[2010.95,12.4],[2010.5,7.6],
[2011.05,13.0],[2011.15,6.5],[2011.25,10.1],[2011.35,18.3],[2011.45,4.6],[2011.55,11.7],[2011.65,8.4],[2011.75,15.4],[2011.85,5.9],[2011.95,21.9],[2011.5,9.5],
[2012.05,7.8],[2012.15,12.7],[2012.25,4.0],[2012.35,14.6],[2012.45,9.4],[2012.55,17.7],[2012.65,6.3],[2012.75,11.1],[2012.85,3.6],[2012.95,13.5],[2012.5,8.8],
[2013.05,10.3],[2013.15,5.4],[2013.25,16.0],[2013.35,8.0],[2013.45,12.3],[2013.55,4.3],[2013.65,19.6],[2013.75,9.7],[2013.85,6.7],[2013.95,14.1],[2013.5,11.4],
[2014.05,6.1],[2014.15,13.2],[2014.25,9.0],[2014.35,21.0],[2014.45,5.1],[2014.55,11.8],[2014.65,15.7],[2014.75,7.3],[2014.85,10.4],[2014.95,3.8],[2014.5,17.2],
[2015.05,12.0],[2015.15,7.9],[2015.25,17.3],[2015.35,4.5],[2015.45,10.9],[2015.55,14.4],[2015.65,6.6],[2015.75,20.8],[2015.85,9.3],[2015.95,12.9],[2015.5,5.6],
[2016.05,8.7],[2016.15,15.9],[2016.25,5.3],[2016.35,11.5],[2016.45,18.8],[2016.55,7.0],[2016.65,13.3],[2016.75,9.8],[2016.85,21.5],[2016.95,6.0],[2016.99,25.4],[2016.9,24.7],[2016.6,3.7]
];
const a4Extra = [
[1998.1,9.4],[1998.3,12.9],[1998.5,6.0],[1998.7,15.4],[1998.9,8.0],[1999.1,12.0],[1999.3,6.8],[1999.5,14.4],[1999.7,10.8],[1999.9,5.9],
[2000.1,10.5],[2000.3,14.9],[2000.5,6.9],[2000.7,12.3],[2000.9,17.2],[2001.1,5.8],[2001.3,10.0],[2001.5,12.7],[2001.7,7.5],[2001.9,16.0],
[2002.1,13.6],[2002.3,8.8],[2002.5,12.0],[2002.7,6.2],[2002.9,10.0],[2003.1,10.2],[2003.3,14.7],[2003.4,8.0],[2003.6,12.0],[2003.8,5.3],[2003.9,11.0],
[2004.1,12.3],[2004.2,8.3],[2004.3,11.4],[2004.5,14.8],[2004.7,9.7],[2004.9,13.6],[2005.1,11.3],[2005.2,7.0],[2005.3,13.4],[2005.4,9.6],[2005.6,12.6],[2005.8,8.6],[2005.9,15.5],
[2006.1,10.0],[2006.2,8.0],[2006.3,12.6],[2006.4,6.0],[2006.6,10.2],[2006.8,13.8],[2006.9,8.4],[2007.1,10.0],[2007.2,13.7],[2007.3,6.6],[2007.4,9.0],[2007.6,12.0],[2007.7,7.9],[2007.9,11.2],
[2008.1,11.5],[2008.2,7.3],[2008.3,10.0],[2008.4,5.0],[2008.6,12.0],[2008.7,7.0],[2008.9,10.4],[2009.1,10.0],[2009.2,5.6],[2009.3,9.0],[2009.4,13.3],[2009.5,6.9],[2009.7,8.3],[2009.9,12.9],
[2010.1,10.6],[2010.2,6.3],[2010.3,12.9],[2010.4,8.6],[2010.6,5.5],[2010.7,11.5],[2010.9,9.0],[2011.1,7.9],[2011.2,12.0],[2011.3,5.4],[2011.4,9.0],[2011.6,13.6],[2011.7,6.7],[2011.9,10.5],
[2012.1,9.9],[2012.2,6.0],[2012.3,11.0],[2012.4,15.6],[2012.6,7.2],[2012.7,12.3],[2012.9,8.3],[2013.1,7.6],[2013.2,12.6],[2013.3,5.0],[2013.4,9.6],[2013.6,14.5],[2013.7,6.9],[2013.9,11.0],
[2014.1,10.5],[2014.2,6.8],[2014.3,12.4],[2014.4,8.6],[2014.6,5.5],[2014.7,13.0],[2014.9,9.4],[2015.1,9.8],[2015.2,5.3],[2015.3,11.7],[2015.4,7.5],[2015.6,13.2],[2015.7,9.0],[2015.9,6.3],
[2016.1,11.8],[2016.2,7.2],[2016.3,13.6],[2016.4,9.0],[2016.5,5.6],[2016.7,11.0],[2016.8,8.0],[2016.97,13.0]
];
const a4More = [
[1998.2,10.6],[1998.6,12.0],[1998.8,7.0],[1999.2,11.0],[1999.6,9.0],[1999.8,12.9],[2000.2,9.0],[2000.6,11.0],[2000.8,13.9],
[2001.2,10.9],[2001.4,8.0],[2001.6,13.0],[2001.8,11.6],[2002.2,10.6],[2002.4,13.0],[2002.6,8.9],[2002.8,12.6],
[2003.2,11.6],[2003.7,9.0],[2004.0,13.0],[2003.0,9.4],[2004.0,10.0],[2004.6,11.0],[2004.8,12.0],[2004.95,10.4],
[2005.0,12.0],[2005.7,10.6],[2005.97,11.0],[2005.12,14.6],[2006.0,11.6],[2006.7,9.0],[2006.97,12.0],[2006.5,7.0],
[2007.0,12.0],[2007.5,8.0],[2007.8,9.6],[2007.97,10.6],[2008.0,7.9],[2008.5,10.0],[2008.8,9.0],[2008.97,8.0],
[2009.0,9.0],[2009.6,8.0],[2009.8,6.6],[2009.97,10.6],[2010.0,6.6],[2010.5,10.0],[2010.8,7.0],[2010.97,9.6],
[2011.0,8.6],[2011.5,7.0],[2011.8,10.0],[2011.97,9.0],[2012.0,10.0],[2012.5,12.0],[2012.8,9.9],[2012.97,7.0],
[2013.0,9.0],[2013.5,7.0],[2013.8,10.6],[2013.97,8.6],[2014.0,9.6],[2014.5,7.6],[2014.8,11.6],[2014.97,8.0],
[2015.0,10.6],[2015.5,8.0],[2015.8,11.0],[2015.97,9.0],[2016.0,9.0],[2016.6,10.6],[2016.85,9.4],[2016.97,11.0]
];

// Panel A fitted lines (Resistant = salmon, Sensitive = teal; solid and dashed)
const a1Years = [1998, 2017];
const a1ResSolid = [11.4, 11.85], a1ResDash = [11.45, 11.8], a1SenSolid = [10.3, 10.75], a1SenDash = [10.35, 10.7];
const a2Years = [1998, 2004.2, 2017];
const a2ResSolid = [12.2, 10.6, 11.3], a2ResDash = [13.0, 11.2, 12.0], a2SenSolid = [11.7, 10.2, 10.9], a2SenDash = [12.6, 10.8, 11.6];
const a3Years = [1998, 2017];
const a3ResSolid = [8.35, 10.3], a3ResDash = [7.5, 9.45], a3SenSolid = [6.4, 8.6], a3SenDash = [6.95, 9.1];
const a4Years = [1998, 2005.0, 2010.5, 2017];
const a4ResSolid = [8.3, 11.5, 8.3, 9.4], a4ResDash = [7.3, 10.4, 7.3, 8.5], a4SenSolid = [7.9, 11.0, 7.9, 9.1], a4SenDash = [6.9, 10.0, 6.9, 8.0];

// Breakpoint markers (blue) at y = 0
const a2SegX = [2001.1, 2004.2], a2SegY = [0, 0];
const a2DotX = [2004.2], a2DotY = [0];
const a2PlusX = [2007.6], a2PlusY = [0];
const a4SegX = [2003.5, 2006.45, null, 2009.6, 2013.0], a4SegY = [0, 0, null, 0, 0];
const a4DotX = [2005.0, 2010.5], a4DotY = [0, 0];
const a4PlusX = [2010.0, 2016.5], a4PlusY = [0, 0];

// Panel B: 30-day mortality curves
const bYears = [1998, 2001, 2005, 2009, 2013, 2017];
const b1SenSolid = [0.198, 0.188, 0.177, 0.167, 0.158, 0.149], b1SenDash = [0.176, 0.168, 0.159, 0.151, 0.143, 0.136];
const b1ResSolid = [0.152, 0.145, 0.138, 0.131, 0.125, 0.119], b1ResDash = [0.138, 0.131, 0.124, 0.117, 0.110, 0.104];
const b2SenSolid = [0.199, 0.190, 0.181, 0.173, 0.166, 0.159], b2SenDash = [0.215, 0.206, 0.196, 0.186, 0.177, 0.169];
const b2ResSolid = [0.138, 0.131, 0.124, 0.118, 0.112, 0.106], b2ResDash = [0.149, 0.142, 0.135, 0.128, 0.122, 0.116];
const b3SenSolid = [0.278, 0.255, 0.228, 0.204, 0.183, 0.166], b3SenDash = [0.252, 0.233, 0.210, 0.190, 0.173, 0.159];
const b3ResSolid = [0.245, 0.226, 0.202, 0.182, 0.165, 0.149], b3ResDash = [0.222, 0.204, 0.182, 0.163, 0.147, 0.132];
const b4SenSolid = [0.444, 0.408, 0.364, 0.312, 0.270, 0.238], b4SenDash = [0.301, 0.277, 0.248, 0.222, 0.195, 0.166];
const b4ResSolid = [0.377, 0.347, 0.311, 0.268, 0.233, 0.202], b4ResDash = [0.258, 0.238, 0.215, 0.189, 0.164, 0.139];

// ---------- LAYOUT / STYLE ----------
const W = 1872, H = 904;
const RES = '#F8766D', SEN = '#00BFC4', BLUE = '#2f2fd6';
const DASH = '15px,8px', LW = 6.5;
const FONT = 'Liberation Sans, Arial, Helvetica, sans-serif';
const colA = [[205, 544], [642, 980], [1075, 1414], [1513, 1852]];
const colB = [[205, 536], [641, 972], [1076, 1407], [1513, 1843]];
const rowA = [85, 423], rowB = [517, 848];
const fx = p => p / W, fy = p => 1 - p / H;

const traces = [];
function pts(p, n) {
  traces.push({type: 'scatter', mode: 'markers', x: p.map(d => d[0]), y: p.map(d => d[1]),
    xaxis: 'x' + n, yaxis: 'y' + n, marker: {size: 5.5, color: '#000'}, hoverinfo: 'skip', cliponaxis: false});
}
function ln(x, y, n, color, dash) {
  traces.push({type: 'scatter', mode: 'lines', x: x, y: y, xaxis: 'x' + n, yaxis: 'y' + n,
    line: {color: color, width: LW, dash: dash}, hoverinfo: 'skip'});
}
pts(a1Pts.concat(a1Extra, a1More), 1); pts(a2Pts.concat(a2Extra, a2More), 2);
pts(a3Pts.concat(a3Extra), 3); pts(a4Pts.concat(a4Extra, a4More), 4);
ln(a1Years, a1SenSolid, 1, SEN, 'solid'); ln(a1Years, a1ResSolid, 1, RES, 'solid');
ln(a1Years, a1SenDash, 1, SEN, DASH); ln(a1Years, a1ResDash, 1, RES, DASH);
ln(a2Years, a2SenSolid, 2, SEN, 'solid'); ln(a2Years, a2ResSolid, 2, RES, 'solid');
ln(a2Years, a2SenDash, 2, SEN, DASH); ln(a2Years, a2ResDash, 2, RES, DASH);
ln(a3Years, a3ResSolid, 3, RES, 'solid'); ln(a3Years, a3SenSolid, 3, SEN, 'solid');
ln(a3Years, a3ResDash, 3, RES, DASH); ln(a3Years, a3SenDash, 3, SEN, DASH);
ln(a4Years, a4ResDash, 4, RES, DASH); ln(a4Years, a4SenDash, 4, SEN, DASH);
ln(a4Years, a4ResSolid, 4, RES, 'solid'); ln(a4Years, a4SenSolid, 4, SEN, 'solid');
function blue(sx, sy, dx, dy, px, py, n) {
  traces.push({type: 'scatter', mode: 'lines', x: sx, y: sy, xaxis: 'x' + n, yaxis: 'y' + n, line: {color: BLUE, width: 1.5}, hoverinfo: 'skip'});
  traces.push({type: 'scatter', mode: 'markers', x: dx, y: dy, xaxis: 'x' + n, yaxis: 'y' + n, marker: {color: BLUE, size: 6}, hoverinfo: 'skip'});
  traces.push({type: 'scatter', mode: 'markers', x: px, y: py, xaxis: 'x' + n, yaxis: 'y' + n, marker: {color: BLUE, size: 8, symbol: 'cross-thin-open', line: {color: BLUE, width: 1}}, hoverinfo: 'skip'});
}
blue(a2SegX, a2SegY, a2DotX, a2DotY, a2PlusX, a2PlusY, 2);
blue(a4SegX, a4SegY, a4DotX, a4DotY, a4PlusX, a4PlusY, 4);
const bSets = [[b1SenSolid, b1SenDash, b1ResSolid, b1ResDash], [b2SenSolid, b2SenDash, b2ResSolid, b2ResDash],
               [b3SenSolid, b3SenDash, b3ResSolid, b3ResDash], [b4SenSolid, b4SenDash, b4ResSolid, b4ResDash]];
bSets.forEach((s, i) => {
  const n = i + 5;
  ln(bYears, s[3], n, RES, DASH); ln(bYears, s[2], n, RES, 'solid');
  ln(bYears, s[1], n, SEN, DASH); ln(bYears, s[0], n, SEN, 'solid');
});

const layout = {
  width: W, height: H, margin: {l: 0, r: 0, t: 0, b: 0},
  paper_bgcolor: '#fff', plot_bgcolor: '#fff', showlegend: false, hovermode: false,
  font: {family: FONT, color: '#000'}, annotations: []
};
function xa(dom, n) {
  return {domain: [fx(dom[0]), fx(dom[1])], anchor: 'y' + n, range: [1997.05, 2017.95], tickvals: xTickVals,
    showline: true, linecolor: '#000', linewidth: 1.5, ticks: 'outside', ticklen: 3, tickwidth: 1.2, tickcolor: '#000',
    ticklabelstandoff: -2,
    showgrid: false, zeroline: false, tickfont: {size: 25.5, family: FONT, color: '#000'}, fixedrange: true};
}
function ya(dom, n, range, tv, tt) {
  const o = {domain: [fy(dom[1]), fy(dom[0])], anchor: 'x' + n, range: range, tickvals: tv,
    showline: true, linecolor: '#000', linewidth: 1.5, ticks: 'outside', ticklen: 4, tickwidth: 1.2, tickcolor: '#000',
    showgrid: false, zeroline: false, tickfont: {size: 25.5, family: FONT, color: '#000'}, fixedrange: true};
  if (tt) o.ticktext = tt;
  return o;
}
const yRangesA = [[0.43, 37.28], [-1.78, 37.4], [0.43, 37.28], [-1.78, 37.4]];
const yTicksA = [yTickA13, yTickA24, yTickA13, yTickA24];
for (let i = 0; i < 4; i++) {
  const n = i + 1, m = i + 5;
  layout['xaxis' + (n === 1 ? '' : n)] = xa(colA[i], n);
  layout['yaxis' + (n === 1 ? '' : n)] = ya(rowA, n, yRangesA[i], yTicksA[i]);
  layout['xaxis' + m] = xa(colB[i], m);
  layout['yaxis' + m] = ya(rowB, m, [-0.05, 1.05], yTickB, yTickBText);
}
const ann = layout.annotations;
function pa(text, xp, yp, size, extra) {
  ann.push(Object.assign({text: text, x: fx(xp), y: fy(yp), xref: 'paper', yref: 'paper', showarrow: false,
    xanchor: 'center', yanchor: 'middle', font: {size: size, family: FONT, color: '#000'}}, extra || {}));
}
const titleX = [357, 779, 1225, 1662];
groups.forEach((g, i) => pa(g, titleX[i], 33, 34));
pa('A', 30, 103, 33); pa('B', 30, 494, 33);
pa('Neutrophils<br>co-amoxiclav<br>resistant vs sensitive', 76, 282, 34, {textangle: -90});
pa('30-day mortality<br>co-amoxiclav<br>resistant versus sensitive', 76, 704, 34, {textangle: -90});
for (let i = 0; i < 4; i++) {
  pa('Collection date and time', (colA[i][0] + colA[i][1]) / 2, 465, 34);
  pa('Collection date and time', (colB[i][0] + colB[i][1]) / 2, 904, 34, {yanchor: 'bottom'});
  const n = i + 1, m = i + 5;
  const common = {showarrow: false, xanchor: 'center', yanchor: 'middle', font: {size: 24.5, family: FONT, color: '#000'}};
  ann.push(Object.assign({text: statA1[i], x: 2007, y: 30, xref: 'x' + n, yref: 'y' + n}, common));
  ann.push(Object.assign({text: statA2[i], x: 2007, y: 25, xref: 'x' + n, yref: 'y' + n}, common));
  ann.push(Object.assign({text: statB1[i], x: 2004, y: 0.75, xref: 'x' + m, yref: 'y' + m}, common));
  ann.push(Object.assign({text: statB2[i], x: 2004, y: 0.50, xref: 'x' + m, yref: 'y' + m}, common));
}
pa('<b>groups.</b>', 13, 13, 26, {xanchor: 'left', yanchor: 'bottom', font: {size: 26, family: 'Liberation Serif, Times New Roman, serif', color: '#000'}});

Plotly.newPlot('chart', traces, layout, {staticPlot: true, displayModeBar: false});
</script>
</body></html>
